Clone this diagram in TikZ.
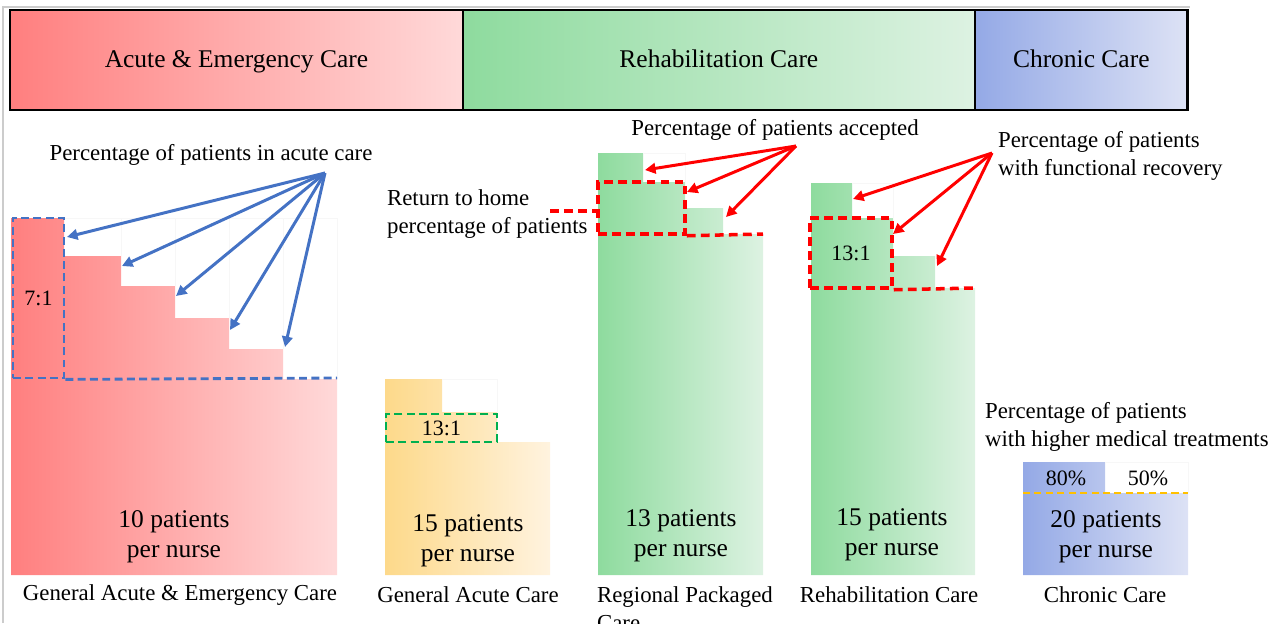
\documentclass[tikz,border=0pt]{standalone}
\usepackage{fontspec}
\setmainfont{Liberation Serif}
\usetikzlibrary{positioning,arrows.meta}
\definecolor{acuteL}{HTML}{FF7F7F}
\definecolor{acuteR}{HTML}{FFD9D9}
\definecolor{genL}{HTML}{FDD98A}
\definecolor{genR}{HTML}{FFF3DF}
\definecolor{rehabL}{HTML}{8EDB9E}
\definecolor{rehabR}{HTML}{DDF2E2}
\definecolor{chronL}{HTML}{94A9E6}
\definecolor{chronR}{HTML}{DDE2F5}
\definecolor{lineblue}{HTML}{4472C4}
\definecolor{linegreen}{HTML}{00B050}
\definecolor{lineyel}{HTML}{FFC000}
\begin{document}
\begin{tikzpicture}[x=0.02cm,y=-0.02cm]
	\tikzstyle{head} = [rectangle,draw=black,line width=1.5pt,outer sep=0pt,inner sep=0pt,
	minimum height=2cm,text height=11pt,text depth=2pt,font=\fontsize{14.5}{17}\selectfont]
	\tikzstyle{big} = [align=center,inner sep=1pt,font=\fontsize{14.5}{17}\selectfont]
	\tikzstyle{note} = [inner sep=1pt,font=\fontsize{13}{15.5}\selectfont]
	\tikzstyle{ratio} = [inner sep=0pt,font=\fontsize{12.5}{15}\selectfont]
	\tikzstyle{dashblue} = [draw=lineblue,line width=1.6pt,dash pattern=on 4.5pt off 2.5pt]
	\tikzstyle{dashgreen} = [draw=linegreen,line width=1.6pt,dash pattern=on 4.5pt off 2.5pt]
	\tikzstyle{dashred} = [draw=red,line width=2pt,dash pattern=on 5pt off 3pt]
	\tikzstyle{dashyel} = [draw=lineyel,line width=1.6pt,dash pattern=on 4pt off 2.5pt]
	\tikzstyle{arrblue} = [draw=lineblue,line width=1.7pt,-{Triangle[length=6pt,width=6pt]}]
	\tikzstyle{arrred} = [draw=red,line width=1.7pt,-{Triangle[length=6pt,width=6pt]}]
	\tikzstyle{ghost} = [draw=black!3,line width=0.4pt]
	\useasboundingbox (0,0) rectangle (1278,623);
	\draw[gray!40,line width=0.8pt] (3,623) -- (3,7) -- (1190,7);
	% header
	\node (hd1) [head,anchor=north west,minimum width=9.06cm,left color=acuteL,right color=acuteR] at (10,10) {Acute \& Emergency Care};
	\node (hd2) [head,right=0pt of hd1,minimum width=10.24cm,left color=rehabL,right color=rehabR] {Rehabilitation Care};
	\node (hd3) [head,right=0pt of hd2,minimum width=4.26cm,left color=chronL,right color=chronR] {Chronic Care};
	% bars
	\shade[left color=acuteL,right color=acuteR] (11,575) -- (11,218) -- (64,218) -- (64,256) -- (121,256) -- (121,286) -- (175,286)
	-- (175,318) -- (229,318) -- (229,349) -- (283,349) -- (283,379) -- (337,379) -- (337,575) -- cycle;
	\draw[ghost] (64,218) -| (337,379);
	\foreach \x/\y in {121/256,175/286,229/318,283/349} \draw[ghost] (\x,218) -- (\x,\y);
	\shade[left color=genL,right color=genR] (385,575) -- (385,379) -- (442,379) -- (442,412) -- (497,412) -- (497,442)
	-- (550,442) -- (550,575) -- cycle;
	\draw[ghost] (442,379) -| (497,412);
	\shade[left color=rehabL,right color=rehabR] (598,575) -- (598,153) -- (643,153) -- (643,182) -- (685,182) -- (685,208)
	-- (723,208) -- (723,234) -- (763,234) -- (763,575) -- cycle;
	\draw[ghost] (643,153) -| (685,182);
	\shade[left color=rehabL,right color=rehabR] (811,575) -- (811,183) -- (852,183) -- (852,218) -- (893,218) -- (893,256)
	-- (935,256) -- (935,288) -- (975,288) -- (975,575) -- cycle;
	\draw[ghost] (852,183) -| (893,218);
	\shade[left color=chronL,right color=chronR] (1023,575) -- (1023,462) -- (1105,462) -- (1105,493) -- (1188,493)
	-- (1188,575) -- cycle;
	\draw[ghost] (1105,462) -| (1188,493);
	% dashed frames
	\node (box1) [dashblue,ratio,minimum width=1.02cm,minimum height=3.2cm] at (38.5,298) {7:1};
	\coordinate (end1) at (337,378);
	\draw[dashblue] (box1.south east) -- (end1);
	\node (box2) [dashgreen,ratio,minimum width=2.22cm,minimum height=0.56cm] at (441.5,428) {13:1};
	\node (box3) [dashred,minimum width=1.74cm,minimum height=1.04cm] at (641.5,208) {};
	\coordinate (end3) at (763,234);
	\coordinate (home) at (550,211);
	\draw[dashred] (box3.south east) -- (end3);
	\draw[dashred] (home) -- (home -| box3.west);
	\node (box4) [dashred,ratio,minimum width=1.64cm,minimum height=1.4cm] at (851,253) {13:1};
	\coordinate (end4) at (975,288);
	\draw[dashred] (box4.south east) -- (end4);
	\coordinate (yel1) at (1023,493);
	\coordinate (yel2) at (1188,493);
	\draw[dashyel] (yel1) -- (yel2);
	% notes and arrows
	\node (lbl1) [note] at (211,155) {Percentage of patients in acute care};
	\coordinate (src1) at (325,173);
	\foreach \x/\y [count=\i] in {67/237,122/266,176/296,230/330,285/347}
	{\coordinate (ta\i) at (\x,\y); \draw[arrblue] (src1) -- (ta\i);}
	\node (lbl2) [note,align=left,anchor=west] at (385,214) {Return to home\\percentage of patients};
	\node (lbl3) [note] at (775,130) {Percentage of patients accepted};
	\coordinate (src3) at (796,146);
	\foreach \x/\y [count=\i] in {645/170,687/192,726/217}
	{\coordinate (tb\i) at (\x,\y); \draw[arrred] (src3) -- (tb\i);}
	\node (lbl4) [note,align=left,anchor=west] at (996,156) {Percentage of patients\\with functional recovery};
	\coordinate (src4) at (992,153);
	\foreach \x/\y [count=\i] in {853/199,893/234,937/266}
	{\coordinate (tc\i) at (\x,\y); \draw[arrred] (src4) -- (tc\i);}
	\node (lbl5) [note,align=left,anchor=west] at (983,427) {Percentage of patients\\with higher medical treatments};
	\node (pc1) [ratio] at (1066,478) {80\%};
	\node (pc2) [ratio] at (1148,478) {50\%};
	% ratios per nurse
	\node (big1) [big] at (174,537) {10 patients\\per nurse};
	\node (big2) [big] at (468,541) {15 patients\\per nurse};
	\node (big3) [big] at (681,536) {13 patients\\per nurse};
	\node (big4) [big] at (892,535) {15 patients\\per nurse};
	\node (big5) [big] at (1106,537) {20 patients\\per nurse};
	% captions
	\node (cap1) [note] at (180,595) {General Acute \& Emergency Care};
	\node (cap2) [note] at (468,595) {General Acute Care};
	\node (cap3) [note,align=left,anchor=north west] at (595,585) {Regional Packaged\\Care};
	\node (cap4) [note] at (889,595) {Rehabilitation Care};
	\node (cap5) [note] at (1105,595) {Chronic Care};
\end{tikzpicture}
\end{document}
